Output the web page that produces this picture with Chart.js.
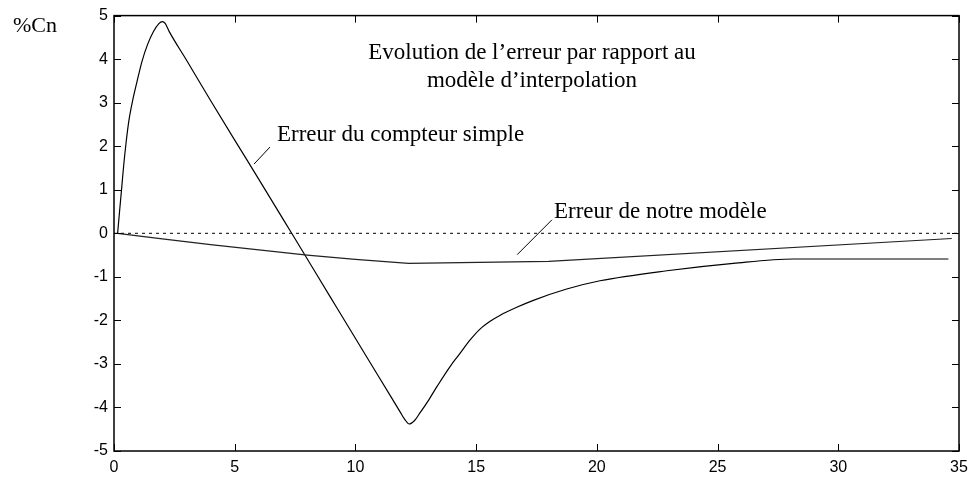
<!DOCTYPE html>
<html>
<head>
<meta charset="utf-8">
<script src="https://cdn.jsdelivr.net/npm/chart.js@4"></script>
<style>
  html, body { margin:0; padding:0; background:#fff; }
  canvas { display:block; }
</style>
</head>
<body>
<canvas id="chart" width="975" height="478"></canvas>
<script>
// values (x in time units, y in %Cn)
const compteurX = [0.15, 0.23, 0.32, 0.4, 0.5, 0.62, 0.78, 0.96, 1.16, 1.4, 1.63, 1.85, 2.0, 2.12, 2.3, 3, 4, 5, 6, 7.36, 9, 10.5, 11.5, 11.85, 12.05, 12.23, 12.45, 12.68, 13.0, 13.4, 13.92, 14.33, 14.75, 15.16, 15.58, 16, 16.68, 17.37, 18.75, 20.13, 22.9, 25.65, 28.14, 34.56];
const compteurY = [0, 0.5, 1.05, 1.55, 2.08, 2.6, 3.07, 3.5, 3.95, 4.35, 4.63, 4.81, 4.86, 4.82, 4.62, 3.98, 3.05, 2.14, 1.24, 0, -1.5, -2.87, -3.78, -4.1, -4.28, -4.38, -4.3, -4.12, -3.86, -3.5, -3.06, -2.76, -2.45, -2.2, -2.02, -1.88, -1.7, -1.54, -1.28, -1.09, -0.86, -0.69, -0.59, -0.59];

const modeleX = [0.15, 2, 4, 6, 8, 10, 12.2, 18, 34.7];
const modeleY = [0, -0.13, -0.26, -0.38, -0.5, -0.6, -0.69, -0.645, -0.12];

const zeroX = [0, 35];
const zeroY = [0, 0];

const xTicks = [0, 5, 10, 15, 20, 25, 30, 35];
const yTicks = [-5, -4, -3, -2, -1, 0, 1, 2, 3, 4, 5];

const titleLines = ['Evolution de l\u2019erreur par rapport au', 'mod\u00e8le d\u2019interpolation'];
const labelCompteur = 'Erreur du compteur simple';
const labelModele = 'Erreur de notre mod\u00e8le';
const yUnit = '%Cn';

const pts = (xs, ys) => xs.map((x, i) => ({x, y: ys[i]}));

const SERIF = '23px "Liberation Serif", "Times New Roman", serif';
const SANS = '"Liberation Sans", Arial, sans-serif';

// box, inward ticks, annotations
const decor = {
  id: 'decor',
  afterDraw(chart){
    const {ctx, chartArea: a, scales:{x, y}} = chart;
    ctx.save();
    ctx.strokeStyle = '#000';
    ctx.lineWidth = 1.5;
    ctx.strokeRect(a.left, a.top, a.right - a.left, a.bottom - a.top);

    ctx.lineWidth = 1;
    const t = 7;
    ctx.beginPath();
    for(const v of xTicks){
      const px = Math.round(x.getPixelForValue(v)) + 0.5;
      ctx.moveTo(px, a.bottom); ctx.lineTo(px, a.bottom - t);
      ctx.moveTo(px, a.top); ctx.lineTo(px, a.top + t);
    }
    for(const v of yTicks){
      const py = Math.round(y.getPixelForValue(v)) + 0.5;
      ctx.moveTo(a.left, py); ctx.lineTo(a.left + t, py);
      ctx.moveTo(a.right, py); ctx.lineTo(a.right - t, py);
    }
    ctx.stroke();

    // pointer lines
    ctx.beginPath();
    ctx.moveTo(x.getPixelForValue(5.8), y.getPixelForValue(1.59));
    ctx.lineTo(x.getPixelForValue(6.46), y.getPixelForValue(1.98));
    ctx.moveTo(x.getPixelForValue(16.7), y.getPixelForValue(-0.49));
    ctx.lineTo(x.getPixelForValue(18.14), y.getPixelForValue(0.31));
    ctx.stroke();

    ctx.fillStyle = '#000';
    ctx.font = SERIF;
    ctx.textBaseline = 'middle';
    ctx.textAlign = 'center';
    ctx.fillText(titleLines[0], 532, 53);
    ctx.fillText(titleLines[1], 532, 81);
    ctx.textAlign = 'left';
    ctx.fillText(labelCompteur, 277, 135);
    ctx.fillText(labelModele, 554, 212);
    ctx.font = '22px "Liberation Serif", "Times New Roman", serif';
    ctx.fillText(yUnit, 13, 26);
    ctx.restore();
  }
};

new Chart(document.getElementById('chart'), {
  type: 'line',
  data: {
    datasets: [
      { label: 'zero', data: pts(zeroX, zeroY), borderColor: '#000', borderWidth: 1, borderDash: [3, 4], pointRadius: 0 },
      { label: labelModele, data: pts(modeleX, modeleY), borderColor: '#222', borderWidth: 1.2, pointRadius: 0 },
      { label: labelCompteur, data: pts(compteurX, compteurY), borderColor: '#000', borderWidth: 1.2, pointRadius: 0, cubicInterpolationMode: 'monotone' }
    ]
  },
  options: {
    responsive: false,
    animation: false,
    devicePixelRatio: 1,
    layout: { padding: { left: 0, top: 14, right: 16, bottom: 0 } },
    plugins: { legend: { display: false }, tooltip: { enabled: false } },
    scales: {
      x: {
        type: 'linear', min: 0, max: 35,
        afterBuildTicks: s => { s.ticks = xTicks.map(v => ({value: v})); },
        afterFit: s => { s.height = 27; },
        grid: { display: false, drawTicks: false },
        border: { display: false },
        ticks: { color: '#000', font: { family: SANS, size: 16 }, padding: 7, maxRotation: 0, autoSkip: false }
      },
      y: {
        type: 'linear', min: -5, max: 5,
        afterBuildTicks: s => { s.ticks = yTicks.map(v => ({value: v})); },
        afterFit: s => { s.width = 114; },
        grid: { display: false, drawTicks: false },
        border: { display: false },
        ticks: { color: '#000', font: { family: SANS, size: 16 }, padding: 6, autoSkip: false }
      }
    }
  },
  plugins: [decor]
});
</script>
</body>
</html>
